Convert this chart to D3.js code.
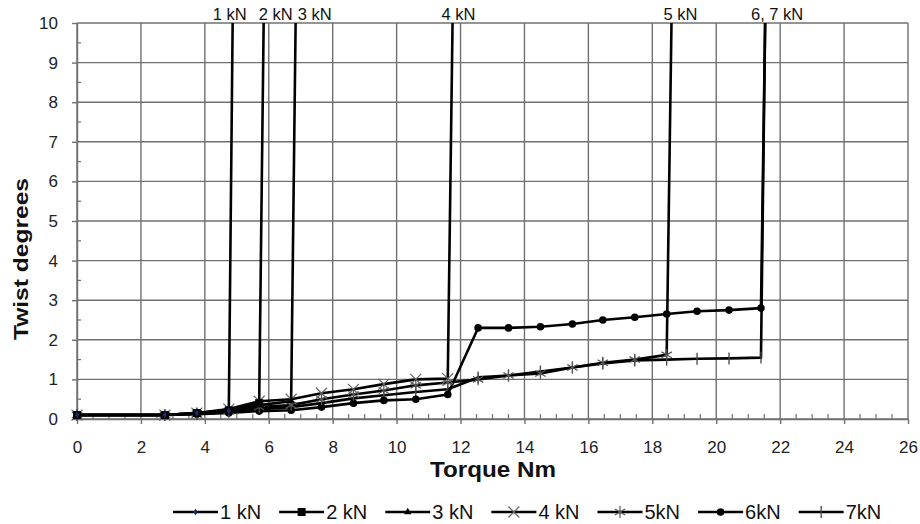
<!DOCTYPE html>
<html>
<head>
<meta charset="utf-8">
<script src="https://cdn.jsdelivr.net/npm/d3@7"></script>
<style>
body { margin: 0; background: #fff; }
text { font-family: "Liberation Sans", Arial, sans-serif; fill: #111; }
</style>
</head>
<body>
<svg width="920" height="524"></svg>
<script>
// Torque steps (Nm) shared by all load cases
var torque = [0, 2.75, 3.75, 4.75, 5.7, 6.7, 7.65, 8.65, 9.6, 10.6, 11.6, 12.55, 13.5, 14.5, 15.5, 16.45, 17.45, 18.45, 19.4, 20.4, 21.4];

// Twist (degrees) per axial load, until failure
var twist1kN = [0.1, 0.1, 0.15, 0.2];
var twist2kN = [0.1, 0.1, 0.15, 0.22, 0.4];
var twist3kN = [0.1, 0.1, 0.15, 0.22, 0.35, 0.45];
var twist4kN = [0.1, 0.1, 0.15, 0.25, 0.45, 0.5, 0.65, 0.75, 0.88, 1.0, 1.02];
var twist5kN = [0.1, 0.1, 0.14, 0.2, 0.3, 0.35, 0.5, 0.62, 0.72, 0.85, 0.92, 1.0, 1.1, 1.15, 1.3, 1.42, 1.5, 1.62];
var twist6kN = [0.1, 0.1, 0.12, 0.15, 0.2, 0.22, 0.3, 0.4, 0.47, 0.5, 0.62, 2.3, 2.3, 2.33, 2.4, 2.5, 2.57, 2.65, 2.72, 2.75, 2.8];
var twist7kN = [0.1, 0.1, 0.13, 0.18, 0.25, 0.3, 0.4, 0.52, 0.6, 0.68, 0.75, 1.05, 1.1, 1.2, 1.3, 1.4, 1.48, 1.5, 1.52, 1.53, 1.55];

var seriesNames = ["1 kN", "2 kN", "3 kN", "4 kN", "5kN", "6kN", "7kN"];
var seriesTwist = [twist1kN, twist2kN, twist3kN, twist4kN, twist5kN, twist6kN, twist7kN];

// torque where each case failed (line goes up to the top)
var failTorque = [4.87, 5.84, 6.84, 11.75, 18.6, 21.53, 21.53];
var failLabels = ["1 kN", "2 kN", "3 kN", "4 kN", "5 kN", "6, 7 kN"];
var failLabelTorque = [4.87, 5.84, 6.84, 11.75, 18.6, 21.53];

var xTicks = d3.range(0, 27, 2);
var yTicks = d3.range(0, 11, 1);

// The svg
var svg = d3.select("svg"),
    margin = {top: 23, right: 12, bottom: 105, left: 77},
    width = +svg.attr("width") - margin.left - margin.right,
    height = +svg.attr("height") - margin.top - margin.bottom;

var g = svg.append("g")
    .attr("transform", "translate(" + margin.left + "," + margin.top + ")");

var x = d3.scaleLinear().domain([0, 26]).range([0, width]);
var y = d3.scaleLinear().domain([0, 10]).range([height, 0]);

var gridColor = "#707070";

// grid
g.append("g").selectAll("line")
  .data(xTicks)
  .enter().append("line")
    .attr("x1", function(d){ return x(d) }).attr("x2", function(d){ return x(d) })
    .attr("y1", 0).attr("y2", height)
    .style("stroke", gridColor).style("stroke-width", 1.4)

g.append("g").selectAll("line")
  .data(yTicks)
  .enter().append("line")
    .attr("x1", 0).attr("x2", width)
    .attr("y1", function(d){ return y(d) }).attr("y2", function(d){ return y(d) })
    .style("stroke", gridColor).style("stroke-width", 1.4)

// minor ticks (inside)
g.append("g").selectAll("line")
  .data(d3.range(0.5, 26, 0.5).filter(function(d){ return d % 2 != 0 }))
  .enter().append("line")
    .attr("x1", function(d){ return x(d) }).attr("x2", function(d){ return x(d) })
    .attr("y1", height).attr("y2", height - 5)
    .style("stroke", gridColor).style("stroke-width", 1.2)

g.append("g").selectAll("line")
  .data(d3.range(0.5, 10, 1))
  .enter().append("line")
    .attr("x1", 0).attr("x2", 4)
    .attr("y1", function(d){ return y(d) }).attr("y2", function(d){ return y(d) })
    .style("stroke", gridColor).style("stroke-width", 1.2)

// axes
var xAxis = g.append("g")
    .attr("transform", "translate(0," + height + ")")
    .call(d3.axisBottom(x).tickValues(xTicks).tickSize(5).tickPadding(17).tickSizeOuter(0))
var yAxis = g.append("g")
    .call(d3.axisLeft(y).tickValues(yTicks).tickSize(5).tickPadding(14).tickSizeOuter(0))

;[xAxis, yAxis].forEach(function(a){
  a.select(".domain").style("stroke", gridColor).style("stroke-width", 1.4)
  a.selectAll(".tick line").style("stroke", gridColor).style("stroke-width", 1.4)
  a.selectAll(".tick text")
    .style("font-family", "'Liberation Sans', Arial, sans-serif")
    .style("font-size", "17px").style("fill", "#222")
})

// axis titles
svg.append("text")
  .attr("x", 430).attr("y", 477)
  .attr("textLength", 126).attr("lengthAdjust", "spacingAndGlyphs")
  .style("font-size", "22px").style("font-weight", "bold")
  .text("Torque Nm")

svg.append("text")
  .attr("transform", "translate(28,340) rotate(-90)")
  .attr("textLength", 162).attr("lengthAdjust", "spacingAndGlyphs")
  .style("font-size", "21px").style("font-weight", "bold")
  .text("Twist degrees")

// markers
function drawMarker(sel, i, cx, cy) {
  if (i == 0) {
    sel.append("path").attr("d", d3.symbol().type(d3.symbolDiamond).size(14)())
      .attr("transform", "translate(" + cx + "," + cy + ")")
      .style("fill", "#1c2a6e")
  } else if (i == 1) {
    sel.append("rect").attr("x", cx - 4).attr("y", cy - 4).attr("width", 8).attr("height", 8)
      .style("fill", "#000")
  } else if (i == 2) {
    sel.append("path").attr("d", d3.symbol().type(d3.symbolTriangle).size(24)())
      .attr("transform", "translate(" + cx + "," + cy + ")")
      .style("fill", "#000")
  } else if (i == 3) {
    sel.append("path").attr("d", d3.symbol().type(d3.symbolTimes).size(80)())
      .attr("transform", "translate(" + cx + "," + cy + ")")
      .style("fill", "none").style("stroke", "#666").style("stroke-width", 1.2)
  } else if (i == 4) {
    sel.append("path").attr("d", d3.symbol().type(d3.symbolAsterisk).size(100)())
      .attr("transform", "translate(" + cx + "," + cy + ")")
      .style("fill", "none").style("stroke", "#555").style("stroke-width", 1.2)
  } else if (i == 5) {
    sel.append("circle").attr("cx", cx).attr("cy", cy).attr("r", 3.8)
      .style("fill", "#000")
  } else {
    sel.append("line").attr("x1", cx).attr("x2", cx).attr("y1", cy - 6).attr("y2", cy + 6)
      .style("stroke", "#444").style("stroke-width", 1.3)
  }
}

var line = d3.line()
    .x(function(d){ return x(d[0]) })
    .y(function(d){ return y(d[1]) })

var curves = g.append("g")
for (var i = seriesTwist.length - 1; i >= 0; i--) {
  var pts = seriesTwist[i].map(function(v, j){ return [torque[j], v] })
  var full = pts.concat([[failTorque[i], 10]])
  curves.append("path")
    .datum(full)
    .attr("d", line)
    .style("fill", "none")
    .style("stroke", "#000")
    .style("stroke-width", 2.6)
    .style("stroke-linejoin", "round")
  var mg = curves.append("g")
  pts.forEach(function(p){ drawMarker(mg, i, x(p[0]), y(p[1])) })
}

// failure labels at the top
var labelDx = [-3, 12, 19, 6, 9, 12]
svg.selectAll("failLabel")
  .data(failLabels)
  .enter().append("text")
    .attr("x", function(d, k){ return margin.left + x(failLabelTorque[k]) + labelDx[k] })
    .attr("y", 20)
    .attr("text-anchor", "middle")
    .style("font-size", "16.5px")
    .text(function(d){ return d })

// legend
var lx = 173, ly = 512
seriesNames.forEach(function(name, i){
  var item = svg.append("g")
  item.append("line")
    .attr("x1", lx).attr("x2", lx + 45).attr("y1", ly).attr("y2", ly)
    .style("stroke", "#000").style("stroke-width", 2.4)
  drawMarker(item, i, lx + 22.5, ly)
  var t = item.append("text")
    .attr("x", lx + 47).attr("y", ly + 7)
    .style("font-size", "20px")
    .text(name)
  lx += 47 + t.node().getComputedTextLength() + 18
})
</script>
</body>
</html>
